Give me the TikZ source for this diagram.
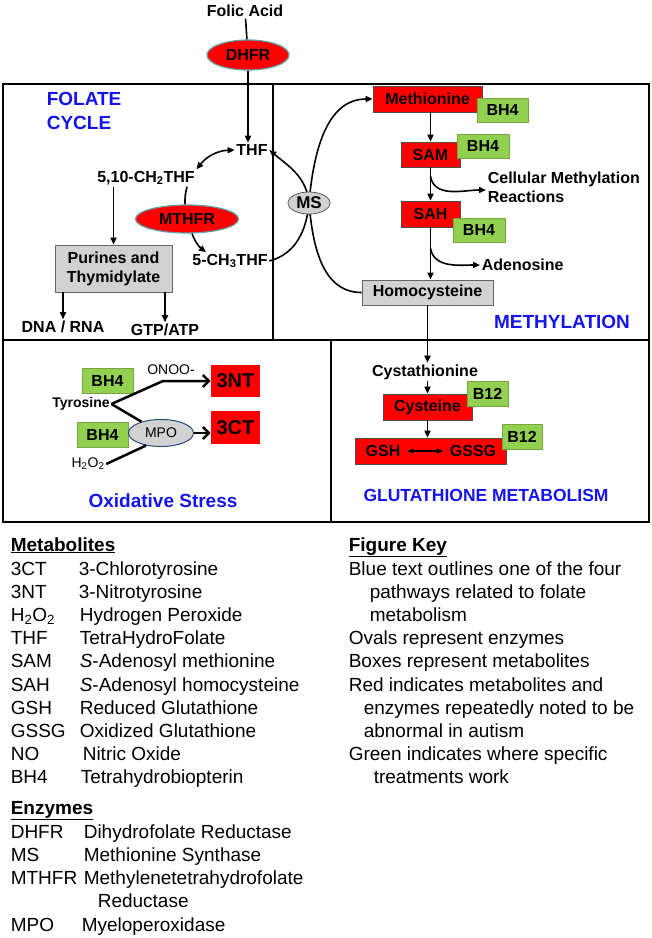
\documentclass[tikz,border=0pt]{standalone}
\usepackage{fontspec}
\setmainfont{Liberation Sans}
\usetikzlibrary{arrows.meta,shapes.geometric}
\definecolor{autred}{RGB}{255,0,0}
\definecolor{treatgreen}{RGB}{146,208,80}
\definecolor{boxgray}{RGB}{210,210,210}
\definecolor{titleblue}{RGB}{20,20,235}
\definecolor{ovalrim}{RGB}{95,160,170}
\definecolor{mporim}{RGB}{40,75,130}
\begin{document}
\begin{tikzpicture}
[x=1pt,y=-1pt,line width=1.6pt,
 >={Triangle[length=7pt,width=6pt]},
 lbl/.style={font=\bfseries\fontsize{16}{19}\selectfont,inner sep=1pt},
 small/.style={font=\fontsize{14}{16}\selectfont,inner sep=1pt},
 pathtitle/.style={text=titleblue,font=\bfseries\fontsize{19}{24}\selectfont,inner sep=0pt},
 metred/.style={lbl,draw=black!70,line width=.7pt,fill=autred,inner sep=0pt},
 metgray/.style={lbl,draw=black!60,line width=.8pt,fill=boxgray,inner sep=0pt},
 treat/.style={lbl,draw=treatgreen!80!black,line width=.5pt,fill=treatgreen,inner sep=0pt,minimum height=24pt},
 enzred/.style={lbl,ellipse,draw=ovalrim,line width=1.2pt,fill=autred,inner sep=0pt},
 enzgray/.style={lbl,ellipse,draw=black!65,line width=.8pt,fill=boxgray,inner sep=0pt},
 stressline/.style={line width=2.5pt},
 legend/.style={font=\fontsize{19}{23}\selectfont,anchor=base west,inner sep=0pt},
 legendhead/.style={legend,font=\bfseries\fontsize{19}{23}\selectfont}]

\useasboundingbox (0,0) rectangle (652,938);

\draw[line width=1.6pt] (3,84) rectangle (649,522); %frame
\draw[line width=1.6pt] (273,84) -- (273,340); %folate | methylation
\draw[line width=1.6pt] (3,340) -- (649,340);
\draw[line width=1.6pt] (331,340) -- (331,522); %stress | glutathione

% folate cycle
\node[lbl] (folic) at (245,11) {Folic Acid};
\node[enzred,minimum width=82pt,minimum height=30pt] (dhfr) at (248,55) {DHFR};
\node[lbl] (thf) at (252,150) {THF};
\node[pathtitle,align=left,anchor=west] (folate) at (46,111) {FOLATE\\CYCLE};
\node[lbl] (ch2thf) at (146,178) {5,10-CH\textsubscript{2}THF};
\node[enzred,minimum width=103pt,minimum height=28pt] (mthfr) at (187,219) {MTHFR};
\node[lbl] (ch3thf) at (230,261) {5-CH\textsubscript{3}THF};
\node[metgray,align=center,minimum width=117pt,minimum height=47pt] (purines) at (113.5,268.5) {Purines and\\Thymidylate};
\node[lbl] (dna) at (63,327) {DNA / RNA};
\node[lbl] (gtp) at (165,330) {GTP/ATP};

\draw (folic) -- (dhfr);
\draw[->] (dhfr.south) -- (dhfr.south |- thf.north);
\draw[<->] (ch2thf.north east) to[bend left=25] (thf.west);
\draw[->] (purines.north |- ch2thf.south) -- (purines.north);
\draw ([xshift=41pt]ch2thf.south) to[bend right=8] ([xshift=-2pt]mthfr.north);
\draw[->] ([xshift=5pt]mthfr.south) to[bend right=15] ([xshift=-24pt]ch3thf.north);
\draw[->] (purines.south -| dna) -- (dna.north);
\draw[->] (purines.south -| gtp) -- (gtp.north);

% methylation
\node[metred,minimum width=109pt,minimum height=26pt] (met) at (427.5,99) {Methionine};
\node[treat,minimum width=51pt] (bh4met) at (502.5,110) {BH4};
\node[metred,minimum width=59pt,minimum height=25pt] (sam) at (430.5,154.5) {SAM};
\node[treat,minimum width=52pt] (bh4sam) at (483,146) {BH4};
\node[metred,minimum width=59pt,minimum height=26pt] (sah) at (430.5,214) {SAH};
\node[treat,minimum width=52pt] (bh4sah) at (479,230) {BH4};
\node[lbl,align=left,anchor=west] (cellmeth) at (486,187) {Cellular Methylation\\Reactions};
\node[lbl,anchor=west] (adeno) at (480,265) {Adenosine};
\node[metgray,minimum width=131pt,minimum height=25pt] (homocys) at (427.5,292.5) {Homocysteine};
\node[pathtitle] (methyl) at (562,322) {METHYLATION};
\coordinate (msc) at (309,203);

\draw[->] (sam.north |- met.south) -- (sam.north);
\draw[->] (sam) -- (sah);
\draw[->] (sah.south) -- (sah.south |- homocys.north);
\draw[->] ([yshift=-9pt]sam.south) to[out=-80,in=180] ([yshift=-3pt]cellmeth.west);
\draw[->] ([yshift=-21pt]sah.south) to[out=-80,in=180] (adeno.west);
\draw[->] (ch3thf.east) to[out=15,in=-95] (msc) to[out=95,in=-40] (thf.east);
\draw[->] (homocys.west) to[out=180,in=-85] (msc) to[out=85,in=180] (met.west);
\node[enzgray,minimum width=42pt,minimum height=22pt,font=\bfseries\fontsize{17}{17}\selectfont] (ms) at (msc) {MS};

% glutathione metabolism
\node[lbl] (cysta) at (425,372) {Cystathionine};
\node[metred,minimum width=89pt,minimum height=26pt] (cys) at (427.5,407) {Cysteine};
\node[treat,minimum width=41pt,minimum height=25pt] (b12cys) at (487.5,393.5) {B12};
\node[metred,minimum width=151pt,minimum height=26pt] (gsbox) at (430.5,451) {};
\node[lbl] (gsh) at (383,451) {GSH};
\node[lbl] (gssg) at (473,451) {GSSG};
\node[treat,minimum width=40pt,minimum height=25pt] (b12gs) at (522,436.5) {B12};
\node[pathtitle,font=\bfseries\fontsize{17.5}{20}\selectfont] (gluta) at (486,495) {GLUTATHIONE METABOLISM};

\draw[->] (homocys.south) -- (homocys.south |- cysta.north);
\draw[->] (cys.north |- cysta.south) -- (cys.north);
\draw[->] (cys.south) -- (cys.south |- gsbox.north);
\draw[{Triangle[length=6pt,width=5pt]}-{Triangle[length=6pt,width=5pt]},shorten <=5pt,shorten >=5pt] (gsh.east) -- (gssg.west);

% oxidative stress
\node[treat,minimum width=51pt,minimum height=25pt] (bh4tyr) at (107.5,380.5) {BH4};
\node[small] (onoo) at (171,370) {ONOO-};
\node[metred,draw=none,minimum width=49pt,minimum height=32pt,font=\bfseries\fontsize{20}{20}\selectfont] (nt) at (235.5,381) {3NT};
\node[metred,draw=none,minimum width=49pt,minimum height=33pt,font=\bfseries\fontsize{20}{20}\selectfont] (ct) at (235.5,427.5) {3CT};
\node[small,font=\bfseries\fontsize{14}{16}\selectfont] (tyr) at (81,404) {Tyrosine};
\node[treat,minimum width=51pt,minimum height=25pt] (bh4mpo) at (102.5,434.5) {BH4};
\node[small,ellipse,draw=mporim,line width=1pt,fill=boxgray,minimum width=65pt,minimum height=27pt] (mpo) at (161,433) {MPO};
\node[small] (h2o2) at (88,464) {H\textsubscript{2}O\textsubscript{2}};
\node[pathtitle] (oxid) at (163,501) {Oxidative Stress};
\coordinate (fork) at (163,381);

\draw[stressline,-{Straight Barb[length=6pt,width=12pt]}] (tyr.east) -- (fork) -- (nt.west);
\draw[stressline] (tyr.east) -- (mpo.150);
\draw[stressline] (h2o2.east) -- (mpo.-140);
\draw[stressline,-{Straight Barb[length=6pt,width=12pt]}] (mpo.east) -- (mpo.east -| ct.west);

% metabolites and enzymes
\node[legendhead] (methead) at (10,551) {\underline{Metabolites}};
\node[legend] (k3ct) at (10,575) {3CT};
\node[legend] (d3ct) at (78,575) {3-Chlorotyrosine};
\node[legend] (k3nt) at (10,598.2) {3NT};
\node[legend] (d3nt) at (78,598.2) {3-Nitrotyrosine};
\node[legend] (kh2o2) at (10,621.4) {H\textsubscript{2}O\textsubscript{2}};
\node[legend] (dh2o2) at (79,621.4) {Hydrogen Peroxide};
\node[legend] (kthf) at (10,644.6) {THF};
\node[legend] (dthf) at (79,644.6) {TetraHydroFolate};
\node[legend] (ksam) at (10,667.8) {SAM};
\node[legend] (dsam) at (79,667.8) {\textit{S}-Adenosyl methionine};
\node[legend] (ksah) at (10,691) {SAH};
\node[legend] (dsah) at (79,691) {\textit{S}-Adenosyl homocysteine};
\node[legend] (kgsh) at (10,714.2) {GSH};
\node[legend] (dgsh) at (79,714.2) {Reduced Glutathione};
\node[legend] (kgssg) at (10,737.4) {GSSG};
\node[legend] (dgssg) at (79,737.4) {Oxidized Glutathione};
\node[legend] (kno) at (10,760.6) {NO};
\node[legend] (dno) at (82,760.6) {Nitric Oxide};
\node[legend] (kbh4) at (10,783.8) {BH4};
\node[legend] (dbh4) at (80,783.8) {Tetrahydrobiopterin};

\node[legendhead] (enzhead) at (10,814) {\underline{Enzymes}};
\node[legend] (kdhfr) at (10,838.3) {DHFR};
\node[legend] (ddhfr) at (83,838.3) {Dihydrofolate Reductase};
\node[legend] (kms) at (10,861.5) {MS};
\node[legend] (dms) at (83,861.5) {Methionine Synthase};
\node[legend] (kmthfr) at (10,884.7) {MTHFR};
\node[legend] (dmthfr) at (83,884.7) {Methylenetetrahydrofolate};
\node[legend] (dmthfrb) at (97,907.9) {Reductase};
\node[legend] (kmpo) at (10,931.1) {MPO};
\node[legend] (dmpo) at (81,931.1) {Myeloperoxidase};

% figure key
\node[legendhead] (keyhead) at (348,551) {\underline{Figure Key}};
\node[legend] (keyblue) at (348,575) {Blue text outlines one of the four};
\node[legend] (keyblueb) at (369,598.2) {pathways related to folate};
\node[legend] (keybluec) at (369,621.4) {metabolism};
\node[legend] (keyoval) at (348,644.6) {Ovals represent enzymes};
\node[legend] (keybox) at (348,667.8) {Boxes represent metabolites};
\node[legend] (keyred) at (348,691) {Red indicates metabolites and};
\node[legend] (keyredb) at (363,714.2) {enzymes repeatedly noted to be};
\node[legend] (keyredc) at (363,737.4) {abnormal in autism};
\node[legend] (keygreen) at (348,760.6) {Green indicates where specific};
\node[legend] (keygreenb) at (373,783.8) {treatments work};

\end{tikzpicture}
\end{document}
